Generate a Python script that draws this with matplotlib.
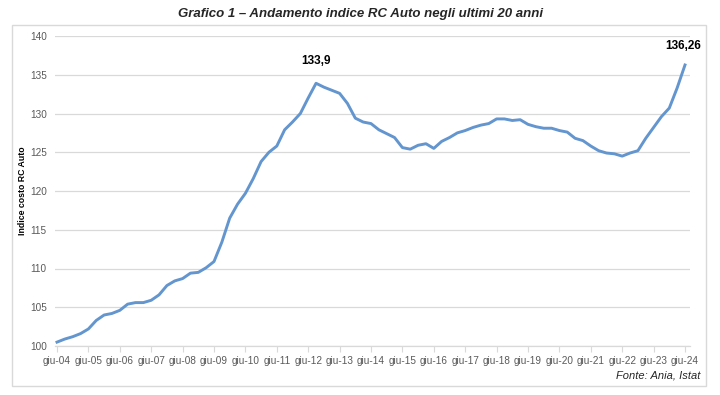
import matplotlib
matplotlib.use("Agg")
import matplotlib.pyplot as plt
from matplotlib.patches import Rectangle
from matplotlib import font_manager
import numpy as np

# Quarterly readings, Jun-2004 .. Jun-2024
values = [
    100.5, 100.9, 101.2, 101.6,   # 2004-05
    102.2, 103.3, 104.0, 104.2,
    104.6, 105.4, 105.6, 105.6,
    105.9, 106.6, 107.8, 108.4,
    108.7, 109.4, 109.5, 110.1,
    110.9, 113.4, 116.5, 118.3,
    119.7, 121.6, 123.8, 125.0,
    125.8, 127.9, 128.9, 130.0,
    132.0, 133.9, 133.4, 133.0,
    132.6, 131.3, 129.4, 128.9,
    128.7, 127.9, 127.4, 126.9,
    125.6, 125.4, 125.9, 126.1,
    125.5, 126.4, 126.9, 127.5,
    127.8, 128.2, 128.5, 128.7,
    129.3, 129.3, 129.1, 129.2,
    128.6, 128.3, 128.1, 128.1,
    127.8, 127.6, 126.8, 126.5,
    125.8, 125.2, 124.9, 124.8,
    124.5, 124.9, 125.2, 126.8,
    128.2, 129.6, 130.7, 133.3,
    136.26,
]
tick_labels = ["giu-%02d" % y for y in range(4, 25)]
y_ticks = [100, 105, 110, 115, 120, 125, 130, 135, 140]

title = "Grafico 1 – Andamento indice RC Auto negli ultimi 20 anni"
ylabel = "Indice costo RC Auto"
source = "Fonte: Ania, Istat"

t = np.arange(len(values)) / 4.0

names = {f.name for f in font_manager.fontManager.ttflist}
narrow = "Liberation Sans Narrow" if "Liberation Sans Narrow" in names else "Liberation Sans"

W, H = 720, 395
plt.rcParams['font.family'] = [narrow, 'DejaVu Sans']
fig = plt.figure(figsize=(W / 100, H / 100), dpi=100)

# outer frame
fig.patches.append(Rectangle((12 / W, 1 - 386 / H), (706 - 12) / W, (386 - 25) / H,
                             transform=fig.transFigure, fill=False,
                             edgecolor="#d9d9d9", linewidth=1.0))

ax = fig.add_axes([55 / W, 1 - 346 / H, 635 / W, 310 / H])
ax.set_xlim(-2 / 31.4, 633 / 31.4)
ax.set_ylim(100, 140)

ax.plot(t, values, color="#6395cf", linewidth=2.1, solid_joinstyle="round")

ax.set_yticks(y_ticks)
ax.set_yticklabels([str(v) for v in y_ticks])
ax.set_xticks(np.arange(len(tick_labels)))
ax.set_xticklabels(tick_labels)

ax.grid(axis="y", color="#d9d9d9", linewidth=0.9)
ax.set_axisbelow(True)
for s in ["top", "right", "left"]:
    ax.spines[s].set_visible(False)
ax.spines["bottom"].set_color("#d9d9d9")
ax.spines["bottom"].set_linewidth(0.9)
ax.tick_params(axis="x", length=4, color="#d9d9d9", labelsize=7.2,
               labelcolor="#595959", pad=3)
ax.tick_params(axis="y", length=0, labelsize=7.2, labelcolor="#595959", pad=6)

ax.set_ylabel(ylabel, fontsize=6.3, fontweight="bold",
              family=["Liberation Sans", "DejaVu Sans"])
ax.yaxis.set_label_coords((27 - 55) / 635, 0.5)

# annotations
ipk = int(np.argmax(values[:60]))
ax.annotate(f"{values[ipk]:.1f}".replace(".", ","), xy=(t[ipk], values[ipk]),
            xytext=(0, 12), textcoords="offset points", ha="center", va="bottom",
            fontsize=8.5, fontweight="bold")
ax.annotate(f"{values[-1]:.2f}".replace(".", ","), xy=(t[-1], values[-1]),
            xytext=(-1, 9), textcoords="offset points", ha="center", va="bottom",
            fontsize=8.5, fontweight="bold")

fig.text(0.5, 1 - 14 / H, title, ha="center", va="center", fontsize=9.5,
         fontweight="bold", fontstyle="italic", color="#262626",
         family=["Liberation Sans", "DejaVu Sans"])
fig.text(700 / W, 1 - 376 / H, source, ha="right", va="center", fontsize=8,
         fontstyle="italic", color="#262626")

fig.savefig("out.png", dpi=100)
